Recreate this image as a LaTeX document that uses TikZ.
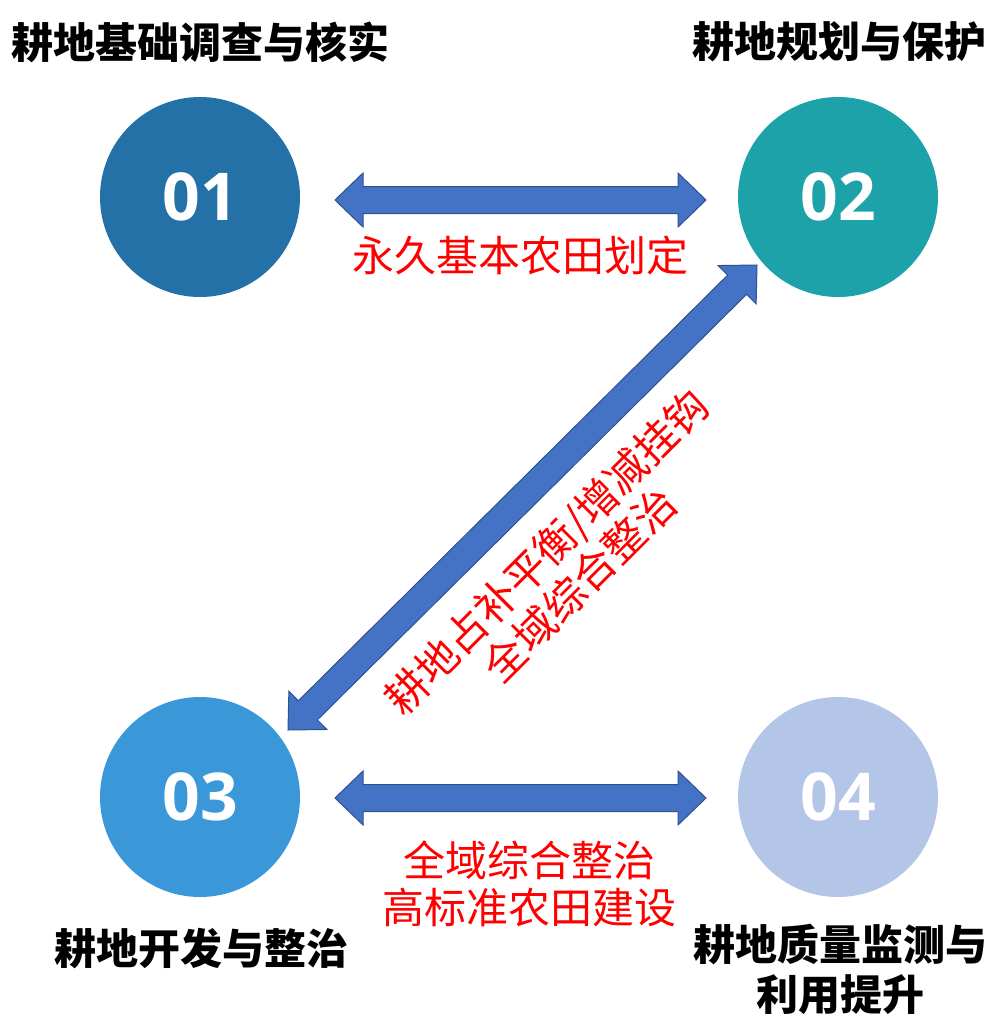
\documentclass[tikz,border=0pt]{standalone}
\usepackage{fontspec}
\setmainfont{Open Sans}
\newfontfamily\cjk{Noto Sans CJK SC}
\usetikzlibrary{calc}
\definecolor{cA}{HTML}{2471A8}
\definecolor{cB}{HTML}{1CA2A8}
\definecolor{cC}{HTML}{3A98D8}
\definecolor{cD}{HTML}{B4C6E7}
\definecolor{arrfill}{HTML}{4472C4}
\definecolor{arrline}{HTML}{2F528F}
\definecolor{lblred}{HTML}{FF0000}
\tikzset{
  numcircle/.style={circle, minimum size=200pt, inner sep=0pt, text=white, font=\fontsize{66}{66}\selectfont\bfseries},
  titletext/.style={font=\cjk\bfseries\fontsize{42}{50}\selectfont, text=black, inner sep=0pt, align=center},
  redlabel/.style={font=\cjk\fontsize{42}{47}\selectfont, text=lblred, inner sep=0pt, align=center},
  arrowbody/.style={fill=arrfill, draw=arrline, line width=1pt, line join=miter}
}
\newcommand{\dbarrow}[2]{%
  \draw[arrowbody] (#1)
    -- ($(#1)!28pt!(#2)!27pt!90:(#2)$)
    -- ($(#1)!28pt!(#2)!13.5pt!90:(#2)$)
    -- ($(#2)!28pt!(#1)!13.5pt!-90:(#1)$)
    -- ($(#2)!28pt!(#1)!27pt!-90:(#1)$)
    -- (#2)
    -- ($(#2)!28pt!(#1)!27pt!90:(#1)$)
    -- ($(#2)!28pt!(#1)!13.5pt!90:(#1)$)
    -- ($(#1)!28pt!(#2)!13.5pt!-90:(#2)$)
    -- ($(#1)!28pt!(#2)!27pt!-90:(#2)$)
    -- cycle;}
\begin{document}
\begin{tikzpicture}[x=1pt,y=-1pt]
\useasboundingbox (0,0) rectangle (999,1028);
% circles
\node[numcircle, fill=cA] (c1) at (200,197) {01};
\node[numcircle, fill=cB] (c2) at (838,197) {02};
\node[numcircle, fill=cC] (c3) at (200,797) {03};
\node[numcircle, fill=cD] (c4) at (838,797) {04};
% titles
\node[titletext] (t1) at (201,42) {耕地基础调查与核实};
\node[titletext] (t2) at (839,42) {耕地规划与保护};
\node[titletext] (t3) at (201,949) {耕地开发与整治};
\node[titletext] (t4) at (840,969) {耕地质量监测与\\利用提升};
% arrow end points
\coordinate (a12l) at (335,200);
\coordinate (a12r) at (706,200);
\coordinate (a34l) at (335,798);
\coordinate (a34r) at (706,798);
\coordinate (a23u) at (757,265);
\coordinate (a23d) at (288,730);
\dbarrow{a12l}{a12r}
\dbarrow{a34l}{a34r}
\dbarrow{a23d}{a23u}
% labels
\node[redlabel] (l12) at (520,255) {永久基本农田划定};
\node[redlabel] (l34) at (529,884) {全域综合整治\\高标准农田建设};
\node[redlabel, rotate=45] (l23) at (563,568) {耕地占补平衡/增减挂钩\\全域综合整治};
\end{tikzpicture}
\end{document}
